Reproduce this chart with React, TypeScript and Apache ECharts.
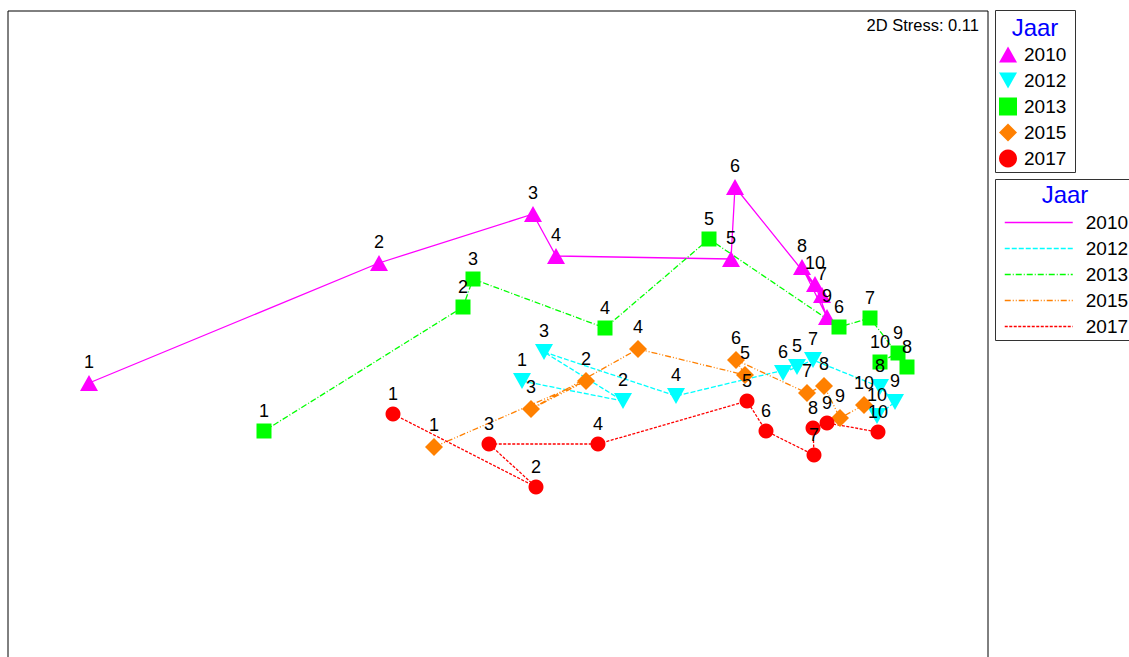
import React, { useEffect, useRef } from "react";
import * as echarts from "echarts";

// MDS ordination coordinates (arbitrary MDS units)
const SAMPLES = ["1", "2", "3", "4", "5", "6", "7", "8", "9", "10"];
const YEARS = ["2010", "2012", "2013", "2015", "2017"];

const x2010 = [-4.11, -1.21, 0.33, 0.56, 2.31, 2.35, 3.22, 3.02, 3.27, 3.15];
const y2010 = [-0.23, 0.97, 1.46, 1.04, 1.01, 1.73, 0.65, 0.93, 0.43, 0.76];

const x2012 = [0.22, 1.23, 0.44, 1.76, 2.97, 2.83, 3.13, 3.8, 3.95, 3.77];
const y2012 = [-0.21, -0.41, 0.08, -0.36, -0.07, -0.13, 0.0, -0.27, -0.42, -0.56];

const x2013 = [-2.36, -0.37, -0.27, 1.05, 2.09, 3.39, 3.7, 4.07, 3.98, 3.8];
const y2013 = [-0.71, 0.53, 0.81, 0.32, 1.21, 0.33, 0.42, -0.07, 0.07, -0.02];

const x2015 = [-0.66, 0.86, 0.31, 1.38, 2.45, 2.36, 3.07, 3.24, 3.4, 3.64];
const y2015 = [-0.87, -0.21, -0.49, 0.11, -0.15, 0.0, -0.33, -0.26, -0.58, -0.45];

const x2017 = [-1.07, 0.36, -0.11, 0.98, 2.47, 2.66, 3.14, 3.13, 3.27, 3.78];
const y2017 = [-0.54, -1.27, -0.84, -0.84, -0.41, -0.71, -0.95, -0.68, -0.63, -0.72];

const STRESS = "2D Stress: 0.11";
const LEGEND_TITLE = "Jaar";

const FONT = "'Liberation Sans', Arial, sans-serif";

const ICON_UP = "path://M5,0 L10,9 L0,9 Z";
const ICON_DOWN = "path://M0,0 L10,0 L5,9 Z";
const ICON_SQUARE = "path://M0,0 L10,0 L10,10 L0,10 Z";
const ICON_DIAMOND = "path://M5,0 L10,5 L5,10 L0,5 Z";

const seriesDefs = [
  { year: "2010", xs: x2010, ys: y2010, color: "#ff00ff", symbol: "triangle", size: [18, 16], rotate: 0, dash: "solid" as any, icon: ICON_UP },
  { year: "2012", xs: x2012, ys: y2012, color: "#00ffff", symbol: "triangle", size: [18, 16], rotate: 180, dash: [5, 2], icon: ICON_DOWN },
  { year: "2013", xs: x2013, ys: y2013, color: "#00ff00", symbol: "rect", size: [15, 15], rotate: 0, dash: [6, 2, 1, 2], icon: ICON_SQUARE },
  { year: "2015", xs: x2015, ys: y2015, color: "#ff8000", symbol: "diamond", size: [18, 18], rotate: 0, dash: [6, 2, 1, 2, 1, 2], icon: ICON_DIAMOND },
  { year: "2017", xs: x2017, ys: y2017, color: "#ff0000", symbol: "circle", size: [15, 15], rotate: 0, dash: [3, 1.5], icon: "circle" },
];

export default function App() {
  const ref = useRef<HTMLDivElement>(null);

  useEffect(() => {
    if (!ref.current) return;
    const chart = echarts.init(ref.current, undefined, { renderer: "svg" });

    const lineSeries = seriesDefs.map((d) => ({
      type: "line",
      name: "L" + d.year,
      data: d.xs.map((x, i) => [x, d.ys[i]]),
      symbol: "none",
      showSymbol: false,
      lineStyle: { color: d.color, width: 1.3, type: d.dash },
      itemStyle: { color: d.color },
      z: 2,
      silent: true,
    }));

    const scatterSeries = seriesDefs.map((d) => ({
      type: "scatter",
      name: d.year,
      data: d.xs.map((x, i) => ({ value: [x, d.ys[i]], name: SAMPLES[i] })),
      symbol: d.symbol,
      symbolSize: d.size,
      symbolRotate: d.rotate,
      itemStyle: { color: d.color, opacity: 1 },
      label: {
        show: true,
        position: "top",
        distance: 4,
        formatter: "{b}",
        color: "#000",
        fontSize: 18,
        fontFamily: FONT,
      },
      z: 3,
      silent: true,
    }));

    chart.setOption({
      animation: false,
      backgroundColor: "#fff",
      textStyle: { fontFamily: FONT },
      grid: {
        left: 8,
        top: 11,
        width: 980,
        height: 700,
        show: true,
        borderColor: "#000",
        borderWidth: 1,
        backgroundColor: "transparent",
      },
      xAxis: {
        type: "value",
        min: -4.92,
        max: 4.88,
        show: false,
      },
      yAxis: {
        type: "value",
        min: -3.51,
        max: 3.49,
        show: false,
      },
      legend: [
        {
          data: seriesDefs.map((d) => ({ name: d.year, icon: d.icon })),
          orient: "vertical",
          left: 999,
          top: 45,
          padding: 0,
          itemWidth: 18,
          itemHeight: 18,
          itemGap: 7,
          selectedMode: false,
          textStyle: { fontSize: 19, color: "#000", fontFamily: FONT, lineHeight: 16, padding: [0, 0, 0, 2] },
        },
        {
          data: YEARS.map((y) => "L" + y),
          orient: "vertical",
          left: 1004,
          top: 213,
          padding: 0,
          itemWidth: 68,
          itemHeight: 16,
          itemGap: 7,
          selectedMode: false,
          itemStyle: { opacity: 0 },
          lineStyle: { width: 1.5 },
          formatter: (n: string) => n.replace(/^L/, ""),
          textStyle: { fontSize: 19, color: "#000", fontFamily: FONT, lineHeight: 16, padding: [0, 0, 0, 8] },
        },
      ],
      graphic: [
        {
          type: "rect",
          shape: { x: 995.5, y: 10.5, width: 80, height: 162 },
          style: { fill: "none", stroke: "#333", lineWidth: 1 },
          silent: true,
        },
        {
          type: "rect",
          shape: { x: 995.5, y: 179.5, width: 160, height: 161 },
          style: { fill: "none", stroke: "#333", lineWidth: 1 },
          silent: true,
        },
        {
          type: "text",
          x: 1035,
          y: 27,
          style: { text: LEGEND_TITLE, fill: "#0000ff", fontSize: 24, fontFamily: FONT, textAlign: "center", textVerticalAlign: "middle" },
          silent: true,
        },
        {
          type: "text",
          x: 1065,
          y: 194,
          style: { text: LEGEND_TITLE, fill: "#0000ff", fontSize: 24, fontFamily: FONT, textAlign: "center", textVerticalAlign: "middle" },
          silent: true,
        },
        {
          type: "text",
          x: 979,
          y: 25,
          style: { text: STRESS, fill: "#000", fontSize: 16.5, fontFamily: FONT, textAlign: "right", textVerticalAlign: "middle" },
          silent: true,
        },
      ],
      series: [...lineSeries, ...scatterSeries],
    });

    return () => chart.dispose();
  }, []);

  return (
    <div
      ref={ref}
      style={{ position: "fixed", left: 0, top: 0, width: 1129, height: 720 }}
    />
  );
}
